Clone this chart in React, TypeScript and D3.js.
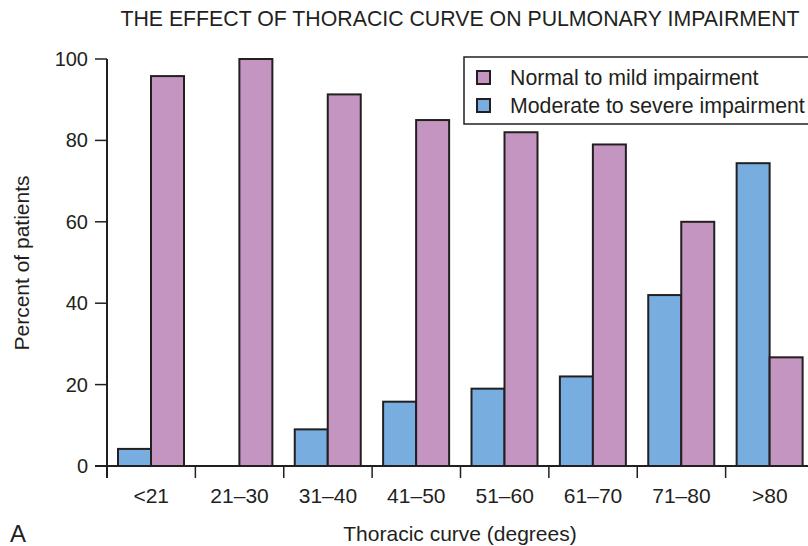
import React from "react";
import * as d3 from "d3";

const categories = ["<21", "21–30", "31–40", "41–50", "51–60", "61–70", "71–80", ">80"];
const normalMild = [95.8, 100, 91.3, 85, 82, 79, 60, 26.7];
const moderateSevere = [4.2, 0, 9, 15.8, 19, 22, 42, 74.4];
const yTicks = [0, 20, 40, 60, 80, 100];
const seriesKeys = ["moderate", "normal"];
const legendLabels = ["Normal to mild impairment", "Moderate to severe impairment"];

const PINK = "#c495c1";
const BLUE = "#78aedf";
const INK = "#231f20";
const FONT = "'Liberation Sans', Arial, Helvetica, sans-serif";

export default function App() {
  const W = 808, H = 546;
  const x0 = d3.scaleBand<string>().domain(categories).range([107, 814]);
  const x1 = d3.scaleBand<string>().domain(seriesKeys).range([11, 77]);
  const y = d3.scaleLinear().domain([0, 100]).range([466, 59]);
  const bw = x1.bandwidth();

  const bars: { x: number; v: number; fill: string; key: string }[] = [];
  categories.forEach((c, i) => {
    const s = x0(c)!;
    if (moderateSevere[i] > 0)
      bars.push({ x: s + x1("moderate")!, v: moderateSevere[i], fill: BLUE, key: c + "m" });
    bars.push({ x: s + x1("normal")!, v: normalMild[i], fill: PINK, key: c + "n" });
  });

  const boundaries = categories.map((c) => x0(c)!);

  return (
    <svg width={W} height={H} style={{ position: "absolute", left: 0, top: 0, background: "#fff" }} fontFamily={FONT}>
      <rect x={0} y={0} width={W} height={H} fill="#fff" />
      <text x={460} y={26} textAnchor="middle" fontSize={21.3} fill={INK}>
        THE EFFECT OF THORACIC CURVE ON PULMONARY IMPAIRMENT
      </text>

      {bars.map((b) => (
        <rect
          key={b.key}
          x={b.x}
          y={y(b.v)}
          width={bw}
          height={y(0) - y(b.v)}
          fill={b.fill}
          stroke={INK}
          strokeWidth={2}
        />
      ))}

      {/* y axis */}
      <line x1={107} y1={y(100)} x2={107} y2={478} stroke={INK} strokeWidth={2} />
      {yTicks.map((t) => (
        <g key={t}>
          <line x1={95} x2={107} y1={y(t)} y2={y(t)} stroke={INK} strokeWidth={1.5} />
          <text x={88} y={y(t)} dy="0.35em" textAnchor="end" fontSize={20} fill={INK}>
            {t}
          </text>
        </g>
      ))}
      {/* x axis */}
      <line x1={95} x2={W} y1={y(0)} y2={y(0)} stroke={INK} strokeWidth={2} />
      {boundaries.map((bx, i) => (
        <line key={i} x1={bx} x2={bx} y1={466} y2={478} stroke={INK} strokeWidth={1.5} />
      ))}
      {categories.map((c) => (
        <text key={c} x={x0(c)! + x0.bandwidth() / 2} y={503} textAnchor="middle" fontSize={21} fill={INK}>
          {c}
        </text>
      ))}

      <text x={460} y={541} textAnchor="middle" fontSize={21} fill={INK}>
        Thoracic curve (degrees)
      </text>
      <text x={10} y={542} fontSize={24} fill={INK}>
        A
      </text>
      <text
        transform="translate(29,263) rotate(-90)"
        textAnchor="middle"
        fontSize={21}
        fill={INK}
      >
        Percent of patients
      </text>

      {/* legend */}
      <rect x={464} y={57} width={360} height={67} fill="#fff" stroke={INK} strokeWidth={1.5} />
      {legendLabels.map((l, i) => (
        <g key={l}>
          <rect x={477} y={71 + i * 28} width={13} height={13} fill={i === 0 ? PINK : BLUE} stroke={INK} strokeWidth={2} />
          <text x={510} y={85 + i * 28} fontSize={21.3} fill={INK}>
            {l}
          </text>
        </g>
      ))}
    </svg>
  );
}
